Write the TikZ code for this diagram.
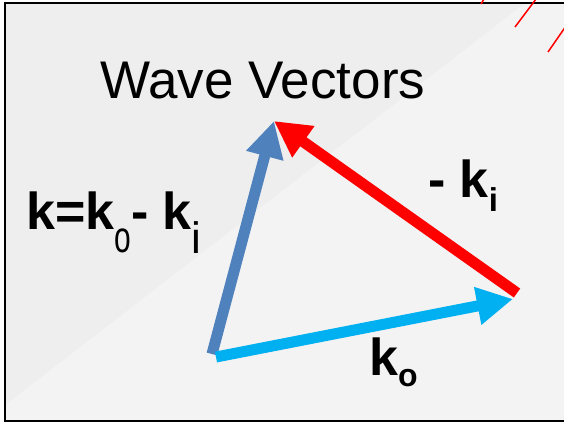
\documentclass[tikz,border=0pt]{standalone}
\usepackage{fontspec}
\usepackage{graphicx}
\setmainfont{Liberation Sans}
\usetikzlibrary{arrows.meta}
\definecolor{vblue}{HTML}{4F81BD}
\definecolor{vcyan}{HTML}{00B0F0}
\definecolor{vred}{HTML}{FF0000}
\definecolor{bgdark}{HTML}{EEEEEE}
\definecolor{bglight}{HTML}{F3F3F3}
\begin{document}
\begin{tikzpicture}[x=1bp,y=-1bp,
  vec/.style={line width=11bp,-{Triangle[length=36bp,width=36bp]}},
  lbl/.style={inner sep=0pt,anchor=base west,font=\bfseries\fontsize{52bp}{60bp}\selectfont},
  deco/.style={vred,line width=1.5bp}]
\useasboundingbox (0,0) rectangle (564,424);
\fill[white] (0,0) rectangle (564,424);
\fill[bglight] (5,3) rectangle (570,421);
\fill[bgdark] (5,3) -- (525,3) -- (5,405) -- cycle;
\draw[line width=2bp] (570,3) -- (5,3) -- (5,421) -- (570,421);
\draw[deco] (484,-1) -- (481,4);
\draw[deco] (536,-1) -- (515,27);
\draw[deco] (566,26) -- (548,52);
\node[anchor=base west,inner sep=0pt,font=\fontsize{53bp}{60bp}\selectfont] (title) at (100,98) {Wave Vectors};
\coordinate (bs) at (212,354);
\coordinate (tip) at (274,121);
\coordinate (cs) at (216,357);
\coordinate (ct) at (513,299);
\coordinate (rs) at (517,293);
\draw[vec,vblue] (bs) -- (tip);
\draw[vec,vcyan] (cs) -- (ct);
\draw[vec,vred] (rs) -- (tip);
\node[lbl] (kform) at (26,229) {k=k\raisebox{-23bp}{\mdseries\fontsize{44bp}{48bp}\selectfont\scalebox{0.68}[1]{o}}- k\raisebox{-24bp}{\mdseries\fontsize{44bp}{48bp}\selectfont i}};
\node[lbl] (kineg) at (428,197) {- k\raisebox{-14bp}{\fontsize{33bp}{40bp}\selectfont i}};
\node[lbl] (kout) at (369,375) {k\raisebox{-11bp}{\fontsize{32bp}{38bp}\selectfont o}};
\end{tikzpicture}
\end{document}
